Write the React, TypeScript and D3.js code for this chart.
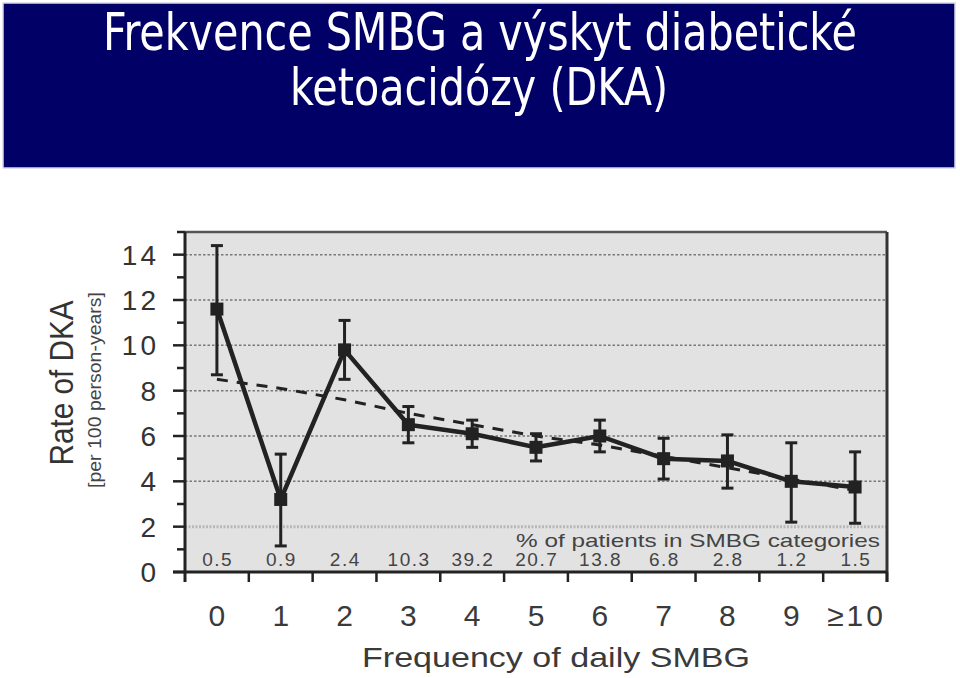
import React from 'react';
import * as d3 from 'd3';

const categories = ['0', '1', '2', '3', '4', '5', '6', '7', '8', '9', '≥10'];
const rates = [11.6, 3.2, 9.8, 6.5, 6.1, 5.5, 6.0, 5.0, 4.9, 4.0, 3.75];
const upper = [14.4, 5.2, 11.1, 7.3, 6.7, 6.1, 6.7, 5.9, 6.05, 5.7, 5.3];
const lower = [8.7, 1.15, 8.5, 5.7, 5.5, 4.9, 5.3, 4.1, 3.7, 2.2, 2.15];
const trend = [8.5, 8.1, 7.6, 7.0, 6.5, 6.0, 5.6, 5.1, 4.6, 4.1, 3.6];
const percents = ['0.5', '0.9', '2.4', '10.3', '39.2', '20.7', '13.8', '6.8', '2.8', '1.2', '1.5'];
const yTicks = [0, 2, 4, 6, 8, 10, 12, 14];
const yMinorTicks = d3.range(0, 16, 1);

const W = 960;
const H = 678;
const plotLeft = 185;
const plotRight = 887;
const plotTop = 232;
const plotBottom = 572;

const chartFont = '"Liberation Sans", Arial, Helvetica, sans-serif';
const titleFont = '"DejaVu Sans Condensed", "Liberation Sans Narrow", "DejaVu Sans", sans-serif';

export default function App() {
  const x = d3.scaleBand<string>().domain(categories).range([plotLeft, plotRight]).padding(0);
  const y = d3.scaleLinear().domain([0, 15]).range([plotBottom, plotTop]);
  const cx = (c: string) => (x(c) as number) + x.bandwidth() / 2;

  const line = d3.line<number>()
    .x((_d, i) => cx(categories[i]))
    .y(d => y(d));

  const boundaries = categories.map(c => (x(c) as number) + x.bandwidth());

  return (
    <svg width={W} height={H} viewBox={`0 0 ${W} ${H}`}
      style={{ position: 'absolute', left: 0, top: 0, background: '#fff' }}>
      {/* title banner */}
      <rect x={3} y={3} width={952} height={165} fill="#000066" stroke="#d8d8e8" strokeWidth={1.5} />
      <text x={480} y={50} fill="#fff" textAnchor="middle" fontSize={52} fontFamily={titleFont}
        textLength={754} lengthAdjust="spacingAndGlyphs">
        Frekvence SMBG a výskyt diabetické
      </text>
      <text x={479} y={105} fill="#fff" textAnchor="middle" fontSize={52} fontFamily={titleFont}
        textLength={378} lengthAdjust="spacingAndGlyphs">
        ketoacidózy (DKA)
      </text>

      {/* plot background */}
      <rect x={plotLeft} y={plotTop} width={plotRight - plotLeft} height={plotBottom - plotTop} fill="#e2e2e2" />

      {/* gridlines */}
      {yTicks.filter(t => t > 0).map(t => (
        <line key={t} x1={plotLeft} x2={plotRight} y1={y(t)} y2={y(t)}
          stroke={t === 2 ? '#b8b8b8' : '#777'} strokeWidth={t === 2 ? 3 : 1.5}
          strokeDasharray={t === 2 ? '2,1.5' : '2.5,2'} />
      ))}

      {/* borders */}
      <line x1={plotLeft} x2={plotRight} y1={plotTop} y2={plotTop} stroke="#555" strokeWidth={2.5} />
      <line x1={plotRight} x2={plotRight} y1={plotTop} y2={plotBottom + 10} stroke="#333" strokeWidth={3} />

      {/* y axis */}
      <line x1={plotLeft} x2={plotLeft} y1={plotTop} y2={plotBottom + 10} stroke="#222" strokeWidth={3} />
      {yMinorTicks.map(t => (
        <line key={t} x1={plotLeft - (t % 2 === 0 ? 12 : 8)} x2={plotLeft} y1={y(t)} y2={y(t)}
          stroke="#222" strokeWidth={2.5} />
      ))}
      {yTicks.map(t => (
        <text key={t} x={159} y={y(t)} dy="0.36em" textAnchor="end" fontSize={28} letterSpacing={3}
          fontFamily={chartFont} fill="#333">{t}</text>
      ))}

      {/* x axis */}
      <line x1={173} x2={plotRight} y1={plotBottom} y2={plotBottom} stroke="#222" strokeWidth={3} />
      {boundaries.map((b, i) => (
        <line key={i} x1={b} x2={b} y1={plotBottom} y2={plotBottom + 10} stroke="#222" strokeWidth={2.5} />
      ))}
      {categories.map(c => (
        <text key={c} x={cx(c) + 1.5} y={626} textAnchor="middle" fontSize={30} letterSpacing={3}
          fontFamily={chartFont} fill="#3a3a3a">{c}</text>
      ))}

      {/* percent annotations */}
      <text x={880} y={547} textAnchor="end" fontSize={19} fontFamily={chartFont} fill="#444"
        textLength={364} lengthAdjust="spacingAndGlyphs">
        % of patients in SMBG categories
      </text>
      {percents.map((p, i) => (
        <text key={i} x={cx(categories[i]) + 0.75} y={566} textAnchor="middle" fontSize={19} letterSpacing={1.5}
          fontFamily={chartFont} fill="#444">{p}</text>
      ))}

      {/* trend line */}
      <path d={line(trend) as string} fill="none" stroke="#222" strokeWidth={3} strokeDasharray="11,9" />

      {/* error bars */}
      {categories.map((c, i) => (
        <g key={c} stroke="#222" strokeWidth={3}>
          <line x1={cx(c)} x2={cx(c)} y1={y(upper[i])} y2={y(lower[i])} />
          <line x1={cx(c) - 6} x2={cx(c) + 6} y1={y(upper[i])} y2={y(upper[i])} />
          <line x1={cx(c) - 6} x2={cx(c) + 6} y1={y(lower[i])} y2={y(lower[i])} />
        </g>
      ))}

      {/* main line */}
      <path d={line(rates) as string} fill="none" stroke="#222" strokeWidth={4.5} strokeLinejoin="round" />
      {rates.map((r, i) => (
        <rect key={i} x={cx(categories[i]) - 6.5} y={y(r) - 6.5} width={13} height={13} fill="#222" />
      ))}

      {/* axis titles */}
      <text transform={`translate(73,383) rotate(-90)`} textAnchor="middle" fontSize={33}
        fontFamily={chartFont} fill="#333" textLength={165} lengthAdjust="spacingAndGlyphs">Rate of DKA</text>
      <text transform={`translate(101,390) rotate(-90)`} textAnchor="middle" fontSize={18}
        fontFamily={chartFont} fill="#444" textLength={196} lengthAdjust="spacingAndGlyphs">[per 100 person-years]</text>
      <text x={556} y={667} textAnchor="middle" fontSize={28} fontFamily={chartFont} fill="#3a3a3a"
        textLength={388} lengthAdjust="spacingAndGlyphs">
        Frequency of daily SMBG
      </text>
    </svg>
  );
}
